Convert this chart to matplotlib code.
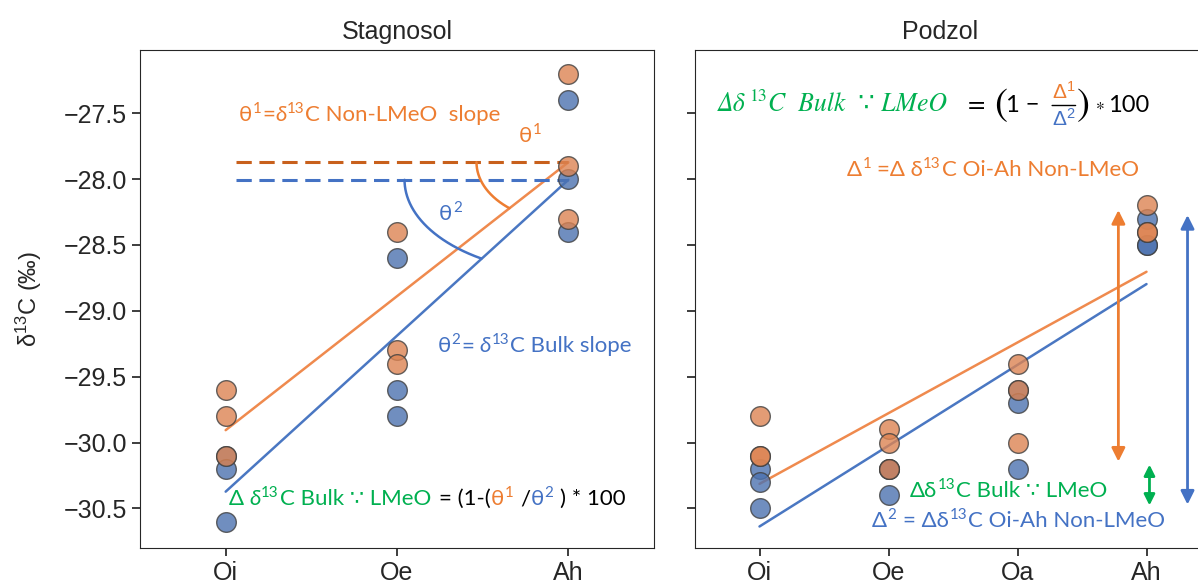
import numpy as np
import matplotlib.pyplot as plt
import seaborn as sns

sns.set_style('ticks')
plt.rcParams['font.family'] = ['Liberation Sans', 'DejaVu Sans']
plt.rcParams['mathtext.fontset'] = 'custom'
plt.rcParams['mathtext.rm'] = 'Liberation Sans'
plt.rcParams['mathtext.it'] = 'Liberation Sans:italic'

# d13C (permil) per horizon, three replicates each
stag_horizons = ['Oi', 'Oe', 'Ah']
stag_non_lmeo = [[-29.6, -29.8, -30.1], [-28.4, -29.3, -29.4], [-27.2, -27.9, -28.3]]
stag_bulk = [[-30.1, -30.2, -30.6], [-28.6, -29.6, -29.8], [-27.4, -28.0, -28.4]]

podz_horizons = ['Oi', 'Oe', 'Oa', 'Ah']
podz_non_lmeo = [[-29.8, -30.1, -30.1], [-29.9, -30.0, -30.2], [-29.4, -29.6, -30.0], [-28.2, -28.4, -28.4]]
podz_bulk = [[-30.2, -30.3, -30.5], [-30.2, -30.2, -30.4], [-29.6, -29.7, -30.2], [-28.3, -28.5, -28.5]]

yticks = [-27.5, -28.0, -28.5, -29.0, -29.5, -30.0, -30.5]

pt_orange = '#dd8452'
pt_blue = '#4c72b0'
ln_orange = '#ef8a4e'
ln_blue = '#4a77c2'
txt_orange = '#ed7d31'
txt_blue = '#4472c4'
txt_green = '#00b050'
ann_font = ['Lato', 'DejaVu Sans']
eq_font = ['STIXGeneral', 'DejaVu Sans']


def draw_group(ax, groups, pt_color, ln_color):
    x = np.repeat(np.arange(len(groups)), [len(g) for g in groups])
    y = np.concatenate(groups)
    ax.scatter(x, y, s=200, color=pt_color, alpha=0.8, edgecolor='0.25',
               linewidth=1, zorder=3)
    slope, icpt = np.polyfit(x, y, 1)
    xs = np.array([0, len(groups) - 1])
    ax.plot(xs, icpt + slope * xs, color=ln_color, lw=1.8, zorder=2)
    return slope, icpt


def rich_text(ax, x, y, parts, size=16, family=ann_font):
    # parts: (text, colour, kind, gap in points); kind is 'n', 'it' or 'sup'
    prev = None
    for s, c, kind, gap in parts:
        fs = size * 0.68 if kind == 'sup' else size
        rise = size * 0.36 if kind == 'sup' else 0
        kw = dict(color=c, fontsize=fs, family=family,
                  fontstyle='italic' if kind == 'it' else 'normal',
                  ha='left', va='baseline')
        if prev is None:
            prev = ax.text(x, y, s, **kw)
        else:
            prev = ax.annotate(s, xy=(1, y), xycoords=(prev, 'data'),
                               xytext=(gap, rise), textcoords='offset points', **kw)
    return prev


def slope_arc(ax, cx, cy, a, b, slope, color):
    # arc from the horizontal reference down to the fitted line
    t = np.linspace(np.pi, 1.5 * np.pi, 400)
    xs = cx + a * np.cos(t)
    ys = cy + b * np.sin(t)
    keep = ys >= cy + slope * (xs - cx)
    ax.plot(xs[keep], ys[keep], color=color, lw=1.8, zorder=2)


fig = plt.figure(figsize=(11.98, 5.83), dpi=100)
ax1 = fig.add_axes([140 / 1198, 35 / 583, 514 / 1198, 498 / 583])
ax2 = fig.add_axes([695 / 1198, 35 / 583, 516 / 1198, 498 / 583], sharey=ax1)

# Stagnosol
sb, ib = draw_group(ax1, stag_bulk, pt_blue, ln_blue)
so, io = draw_group(ax1, stag_non_lmeo, pt_orange, ln_orange)
end_o = io + so * 2
end_b = ib + sb * 2
ax1.plot([0.06, 2], [end_o, end_o], color='#c8601c', lw=2.2, ls=(0, (5, 2.5)), zorder=2)
ax1.plot([0.06, 2], [end_b, end_b], color='#4472c4', lw=2.2, ls=(0, (5, 2.5)), zorder=2)
slope_arc(ax1, 2, end_o, 0.536, 0.4545, so, txt_orange)
slope_arc(ax1, 2, end_b, 0.956, 0.705, sb, txt_blue)

rich_text(ax1, 0.076, -27.56, [('θ', txt_orange, 'n', 0),
                                ('1', txt_orange, 'sup', 0.5),
                                ('=', txt_orange, 'n', 0.5),
                                ('δ', txt_orange, 'it', 0),
                                ('13', txt_orange, 'sup', 0.5),
                                ('C Non-LMeO  slope', txt_orange, 'n', 0.5)])
rich_text(ax1, 1.71, -27.72, [('θ', txt_orange, 'n', 0),
                               ('1', txt_orange, 'sup', 0.5)])
rich_text(ax1, 1.245, -28.31, [('θ', txt_blue, 'n', 0),
                                ('2', txt_blue, 'sup', 0.5)])
rich_text(ax1, 1.236, -29.315, [('θ', txt_blue, 'n', 0),
                                 ('2', txt_blue, 'sup', 0.5),
                                 ('=', txt_blue, 'n', 0.5),
                                 ('δ', txt_blue, 'it', 4),
                                 ('13', txt_blue, 'sup', 0.5),
                                 ('C Bulk slope', txt_blue, 'n', 0.5)])
rich_text(ax1, 0.017, -30.475, [('Δ', txt_green, 'n', 0),
                                 ('δ', txt_green, 'it', 4),
                                 ('13', txt_green, 'sup', 0.5),
                                 ('C Bulk ∵ LMeO', txt_green, 'n', 0.5),
                                 ('= (1-(', 'black', 'n', 6),
                                 ('θ', txt_orange, 'n', 0),
                                 ('1', txt_orange, 'sup', 0.5),
                                 ('/', 'black', 'n', 5),
                                 ('θ', txt_blue, 'n', 0),
                                 ('2', txt_blue, 'sup', 0.5),
                                 (') * 100', 'black', 'n', 5)])

ax1.set_xticks(range(len(stag_horizons)))
ax1.set_xticklabels(stag_horizons)
ax1.set_xlim(-0.5, 2.5)
ax1.set_title('Stagnosol', fontsize=18, pad=8)
ax1.set_ylabel('δ$^{13}$C (‰)', fontsize=17, labelpad=14)

# Podzol
draw_group(ax2, podz_bulk, pt_blue, ln_blue)
draw_group(ax2, podz_non_lmeo, pt_orange, ln_orange)

green = rich_text(ax2, -0.326, -27.48, [('Δδ', txt_green, 'it', 0),
                                         ('13', txt_green, 'sup', 2.5),
                                         ('C  Bulk  ∵ LMeO', txt_green, 'it', 1)],
                  size=18.5, family=eq_font)
off = dict(textcoords='offset points', ha='left', va='center', color='black')
eq = ax2.annotate('=', xy=(1, 0.45), xycoords=green, xytext=(15, 0), fontsize=18,
                  family=eq_font, **off)
lp = ax2.annotate('(', xy=(1, 0.5), xycoords=eq, xytext=(7, 0), fontsize=28,
                  family=eq_font, **off)
one = ax2.annotate('1 −', xy=(1, 0.5), xycoords=(lp, eq), xytext=(-1, 0), fontsize=17,
                   family=ann_font, **off)
num = ax2.annotate(r'$\Delta^{1}$', xy=(1, 0.5), xycoords=one, xytext=(9, 2), fontsize=15,
                   textcoords='offset points', ha='left', va='bottom', color=txt_orange)
den = ax2.annotate(r'$\Delta^{2}$', xy=(1, 0.5), xycoords=one, xytext=(9, -2), fontsize=15,
                   textcoords='offset points', ha='left', va='top', color=txt_blue)
ax2.annotate('', xy=(1, 0.5), xycoords=(num, one), xytext=(0, 0.5), textcoords=(num, one),
             arrowprops=dict(arrowstyle='-', color='black', lw=1, shrinkA=0, shrinkB=0))
rp = ax2.annotate(')', xy=(1, 0.5), xycoords=(num, lp), xytext=(1, 0), fontsize=28,
                  family=eq_font, **off)
star = ax2.annotate('∗', xy=(1, 0.5), xycoords=(rp, one), xytext=(4, 0), fontsize=12,
                    family=eq_font, **off)
ax2.annotate('100', xy=(1, 0.5), xycoords=(star, one), xytext=(3, 0), fontsize=17,
             family=ann_font, **off)

rich_text(ax2, 0.676, -27.975, [('Δ', txt_orange, 'n', 0),
                                 ('1', txt_orange, 'sup', 0.5),
                                 ('=Δ δ', txt_orange, 'n', 4),
                                 ('13', txt_orange, 'sup', 0.5),
                                 ('C Oi-Ah Non-LMeO', txt_orange, 'n', 0.5)])
rich_text(ax2, 1.166, -30.414, [('Δδ', txt_green, 'n', 0),
                                 ('13', txt_green, 'sup', 0.5),
                                 ('C Bulk ∵ LMeO', txt_green, 'n', 0.5)])
rich_text(ax2, 0.870, -30.641, [('Δ', txt_blue, 'n', 0),
                                 ('2', txt_blue, 'sup', 0.5),
                                 ('= Δδ', txt_blue, 'n', 5),
                                 ('13', txt_blue, 'sup', 0.5),
                                 ('C Oi-Ah Non-LMeO', txt_blue, 'n', 0.5)])

ax2.annotate('', xy=(2.782, -28.235), xytext=(2.782, -30.144),
             arrowprops=dict(arrowstyle='<|-|>', color=txt_orange, lw=2,
                             mutation_scale=20, shrinkA=0, shrinkB=0))
ax2.annotate('', xy=(3.318, -28.273), xytext=(3.318, -30.47),
             arrowprops=dict(arrowstyle='<|-|>', color=txt_blue, lw=2,
                             mutation_scale=20, shrinkA=0, shrinkB=0))
ax2.annotate('', xy=(3.023, -30.167), xytext=(3.023, -30.477),
             arrowprops=dict(arrowstyle='<|-|>', color=txt_green, lw=2,
                             mutation_scale=16, shrinkA=0, shrinkB=0))

ax2.set_xticks(range(len(podz_horizons)))
ax2.set_xticklabels(podz_horizons)
ax2.set_xlim(-0.5, 3.5)
ax2.set_title('Podzol', fontsize=18, pad=8, x=0.475)
ax2.tick_params(labelleft=False)

for ax in (ax1, ax2):
    ax.set_ylim(-30.8, -27.02)
    ax.set_yticks(yticks)
    ax.tick_params(labelsize=18, length=6, width=1.25)

fig.savefig('out.png', dpi=100)
